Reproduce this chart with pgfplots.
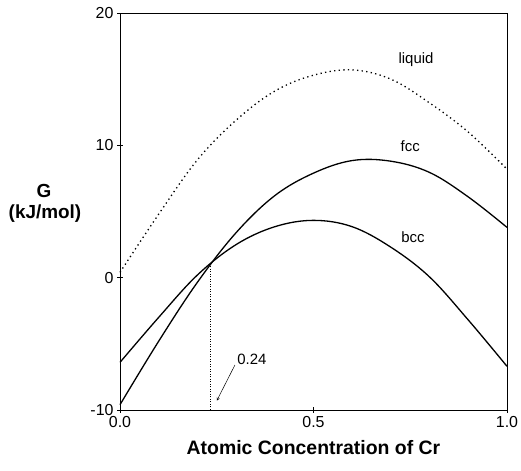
\documentclass[border=0pt]{standalone}
\usepackage{pgfplots}
\pgfplotsset{compat=1.18}
\usepackage{fontspec}
\setmainfont{Liberation Sans}
\begin{document}
\begin{tikzpicture}
\useasboundingbox (0,0) rectangle (521bp,471bp);
\begin{axis}[
  scale only axis,
  width=387bp, height=397bp,
  at={(120bp,61bp)}, anchor=south west,
  xmin=0, xmax=1, ymin=-10, ymax=20,
  xtick={0,0.5,1}, ytick={-10,0,10,20},
  xtick pos=bottom, ytick pos=left,
  tick align=center,
  major tick length=6bp,
  tick style={black, line width=0.7bp},
  axis line style={line width=0.9bp},
  xticklabel style={/pgf/number format/fixed, /pgf/number format/fixed zerofill, /pgf/number format/precision=1},
  /pgf/number format/assume math mode=true,
  ticklabel style={font=\fontsize{16}{18}\selectfont},
  clip=false,
]
% liquid
\addplot[black, line width=1.3bp, dash pattern=on 1.3bp off 3.3bp, smooth, tension=0.6] coordinates {
 (0,0.4) (0.1,4.8) (0.2,8.9) (0.3,11.9) (0.4,14.1) (0.5,15.3) (0.6,15.7) (0.7,15.0)
 (0.8,13.2) (0.9,11.0) (1.0,8.2)};
% fcc
\addplot[black, line width=1.3bp, smooth, tension=0.6] coordinates {
 (0,-9.6) (0.1,-4.8) (0.2,-0.35) (0.3,3.4) (0.4,6.2) (0.5,7.9) (0.6,8.85)
 (0.7,8.8) (0.8,7.95) (0.9,6.1) (1.0,3.8)};
% bcc
\addplot[black, line width=1.3bp, smooth, tension=0.6] coordinates {
 (0,-6.4) (0.1,-3.0) (0.2,0.2) (0.3,2.5) (0.4,3.85) (0.5,4.33) (0.6,3.85) (0.7,2.3)
 (0.8,0.05) (0.9,-3.2) (1.0,-6.7)};
% vertical marker
\addplot[black, line width=0.8bp, dash pattern=on 1bp off 1.5bp] coordinates {(0.233,-10) (0.233,1.0)};
\draw[->, >=stealth, line width=0.5bp] (axis cs:0.297,-6.6) -- (axis cs:0.25,-9.3);
\node[font=\fontsize{15}{17}\selectfont] at (axis cs:0.341,-6.15) {0.24};
\node[font=\fontsize{15}{17}\selectfont] at (axis cs:0.765,16.5) {liquid};
\node[font=\fontsize{15}{17}\selectfont] at (axis cs:0.75,9.95) {fcc};
\node[font=\fontsize{15}{17}\selectfont] at (axis cs:0.757,3.07) {bcc};
\end{axis}
\node[font=\bfseries\fontsize{19}{22}\selectfont] at (44bp,280bp) {G};
\node[font=\bfseries\fontsize{19}{22}\selectfont] at (45bp,257bp) {(kJ/mol)};
\node[font=\bfseries\fontsize{19.5}{22}\selectfont] at (313.5bp,23bp) {Atomic Concentration of Cr};
\end{tikzpicture}
\end{document}
